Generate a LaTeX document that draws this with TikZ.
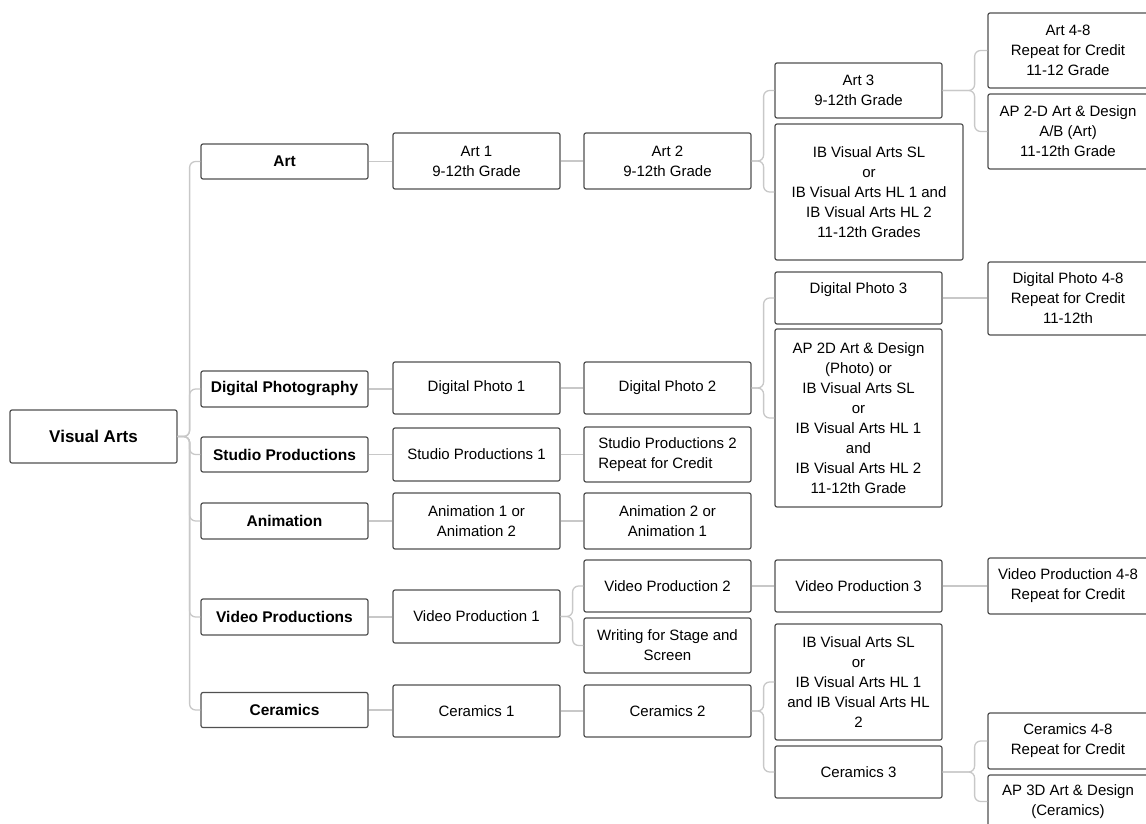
\documentclass[tikz,border=0pt]{standalone}
\usepackage{fontspec}
\setmainfont{Liberation Sans}
\usetikzlibrary{positioning}
\definecolor{boxgray}{RGB}{80,80,80}
\definecolor{linkgray}{RGB}{200,200,200}
\tikzset{
  box/.style={draw=boxgray, line width=1.2pt, rounded corners=2pt, align=center, inner sep=2pt, minimum width=167pt, font=\fontsize{15}{20}\selectfont},
  catbox/.style={box, font=\fontsize{15.5}{20}\selectfont\bfseries},
  link/.style={linkgray, line width=1.3pt, rounded corners=6pt},
}

\begin{document}
\begin{tikzpicture}[x=1pt,y=-1pt]
     \useasboundingbox (0,0) rectangle (1146,824);

     % root and the six areas
     \node [catbox, minimum height=53pt, font=\fontsize{17}{20}\selectfont\bfseries] (va) at (93.5,436.5){Visual Arts};
     \node [catbox, minimum height=35pt] (art) at (284.5,161.5){Art};
     \node [catbox, minimum height=36pt] (dphoto) at (284.5,389){Digital Photography};
     \node [catbox, minimum height=35pt] (studio) at (284.5,454.5){Studio Productions};
     \node [catbox, minimum height=36pt] (anim) at (284.5,521){Animation};
     \node [catbox, minimum height=36pt] (video) at (284.5,617){Video Productions};
     \node [catbox, minimum height=35pt] (ceram) at (284.5,710){Ceramics};

     % first courses
     \node [box, minimum height=56pt] (art1) at (476.5,161){Art 1\\9-12th Grade};
     \node [box, minimum height=52pt] (dphoto1) at (476.5,388){Digital Photo 1};
     \node [box, minimum height=53pt] (studio1) at (476.5,454.5){Studio Productions 1};
     \node [box, minimum height=56pt] (anim1) at (476.5,521){Animation 1 or\\Animation 2};
     \node [box, minimum height=53pt] (video1) at (476.5,616.5){Video Production 1};
     \node [box, minimum height=52pt] (ceram1) at (476.5,711){Ceramics 1};

     % second courses
     \node [box, minimum height=56pt] (art2) at (667.5,161){Art 2\\9-12th Grade};
     \node [box, minimum height=52pt] (dphoto2) at (667.5,388){Digital Photo 2};
     \node [box, minimum height=55pt, align=left] (studio2) at (667.5,454.5){Studio Productions 2\\Repeat for Credit};
     \node [box, minimum height=56pt] (anim2) at (667.5,521){Animation 2 or\\Animation 1};
     \node [box, minimum height=52pt] (video2) at (667.5,586){Video Production 2};
     \node [box, minimum height=55pt] (writing) at (667.5,645.5){Writing for Stage and\\Screen};
     \node [box, minimum height=52pt] (ceram2) at (667.5,711){Ceramics 2};

     % third courses
     \node [box, minimum height=55pt] (art3) at (858.5,90.5){Art 3\\9-12th Grade};
     \node [box, minimum height=136pt, minimum width=188pt] (artib) at (869,192){IB Visual Arts SL\\or\\IB Visual Arts HL 1 and\\IB Visual Arts HL 2\\11-12th Grades};
     \node [box, minimum height=52pt] (dphoto3) at (858.5,298){Digital Photo 3\\~};
     \node [box, minimum height=178pt] (dphotoap) at (858.5,418){AP 2D Art \& Design\\(Photo) or\\IB Visual Arts SL\\or\\IB Visual Arts HL 1\\and\\IB Visual Arts HL 2\\11-12th Grade};
     \node [box, minimum height=52pt] (video3) at (858.5,586){Video Production 3};
     \node [box, minimum height=116pt] (ceramib) at (858.5,682){IB Visual Arts SL\\or\\IB Visual Arts HL 1\\and IB Visual Arts HL\\2};
     \node [box, minimum height=52pt] (ceram3) at (858.5,772){Ceramics 3};

     % last column
     \node [box, minimum height=75pt, minimum width=160pt] (art48) at (1068,50.5){Art 4-8\\Repeat for Credit\\11-12 Grade};
     \node [box, minimum height=75pt, minimum width=160pt] (artap) at (1068,131.5){AP 2-D Art \& Design\\A/B (Art)\\11-12th Grade};
     \node [box, minimum height=73pt, minimum width=160pt] (dphoto48) at (1068,298.5){Digital Photo 4-8\\Repeat for Credit\\11-12th};
     \node [box, minimum height=56pt, minimum width=160pt] (video48) at (1068,586){Video Production 4-8\\Repeat for Credit};
     \node [box, minimum height=56pt, minimum width=160pt] (ceram48) at (1068,741){Ceramics 4-8\\Repeat for Credit};
     \node [box, minimum height=53pt, minimum width=160pt] (ceramap) at (1068,801.5){AP 3D Art \& Design\\(Ceramics)};

     % connectors
     \foreach \area in {art,dphoto,studio,anim,video,ceram}
        \draw [link] (va.east) -- ++(12,0) |- (\area.west);
     \foreach \a/\b in {art/art1,dphoto/dphoto1,studio/studio1,anim/anim1,video/video1,ceram/ceram1,
                        art1/art2,dphoto1/dphoto2,studio1/studio2,anim1/anim2,ceram1/ceram2,
                        video2/video3,dphoto3/dphoto48,video3/video48}
        \draw [link] (\a.east) -- (\a.east -| \b.west);
     \draw [link] (art2.east) -- ++(12,0) |- (art3.west);
     \draw [link] (art2.east) -- ++(12,0) |- (artib.west);
     \draw [link] (art3.east) -- ++(32,0) |- (art48.west);
     \draw [link] (art3.east) -- ++(32,0) |- (artap.west);
     \draw [link] (dphoto2.east) -- ++(12,0) |- (dphoto3.west);
     \draw [link] (dphoto2.east) -- ++(12,0) |- (dphotoap.west);
     \draw [link] (video1.east) -- ++(12,0) |- (video2.west);
     \draw [link] (video1.east) -- ++(12,0) |- (writing.west);
     \draw [link] (ceram2.east) -- ++(12,0) |- (ceramib.west);
     \draw [link] (ceram2.east) -- ++(12,0) |- (ceram3.west);
     \draw [link] (ceram3.east) -- ++(32,0) |- (ceram48.west);
     \draw [link] (ceram3.east) -- ++(32,0) |- (ceramap.west);
\end{tikzpicture}
\end{document}
